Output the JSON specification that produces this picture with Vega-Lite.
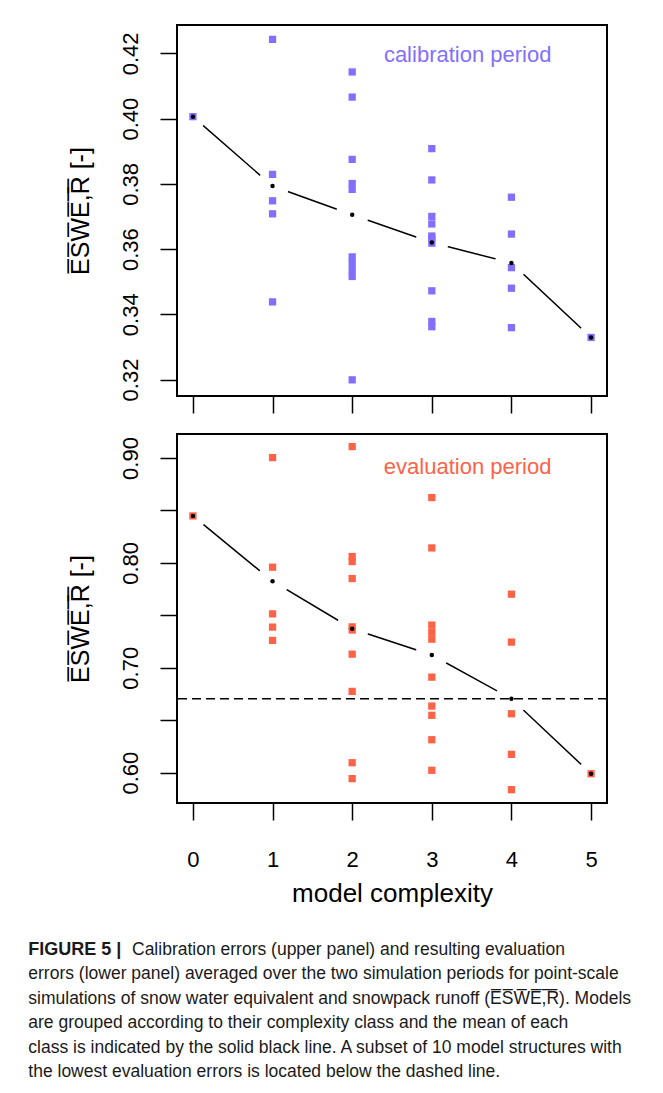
{
  "$schema": "https://vega.github.io/schema/vega-lite/v6.json",
  "background": "white",
  "padding": {"left": 28, "top": 24, "right": 5, "bottom": 5},
  "spacing": 18,
  "config": {
    "font": "Liberation Sans",
    "view": {"stroke": "black", "strokeWidth": 2},
    "axis": {
      "domain": false,
      "grid": false,
      "tickColor": "black",
      "tickWidth": 1.5,
      "tickSize": 17,
      "labelColor": "black",
      "labelFont": "Liberation Sans",
      "labelFontSize": 22,
      "titleFont": "Liberation Sans",
      "titleFontSize": 25,
      "titleFontWeight": "normal",
      "titleColor": "black"
    }
  },
  "datasets": {
    "cal": [
      {"complexity": 0, "error": 0.4006},
      {"complexity": 1, "error": 0.4243},
      {"complexity": 1, "error": 0.3829},
      {"complexity": 1, "error": 0.3748},
      {"complexity": 1, "error": 0.3708},
      {"complexity": 1, "error": 0.3438},
      {"complexity": 2, "error": 0.4143},
      {"complexity": 2, "error": 0.4066},
      {"complexity": 2, "error": 0.3875},
      {"complexity": 2, "error": 0.3801},
      {"complexity": 2, "error": 0.3783},
      {"complexity": 2, "error": 0.3576},
      {"complexity": 2, "error": 0.3556},
      {"complexity": 2, "error": 0.3535},
      {"complexity": 2, "error": 0.3516},
      {"complexity": 2, "error": 0.3199},
      {"complexity": 3, "error": 0.3908},
      {"complexity": 3, "error": 0.3812},
      {"complexity": 3, "error": 0.3700},
      {"complexity": 3, "error": 0.3677},
      {"complexity": 3, "error": 0.3640},
      {"complexity": 3, "error": 0.3632},
      {"complexity": 3, "error": 0.3618},
      {"complexity": 3, "error": 0.3472},
      {"complexity": 3, "error": 0.3378},
      {"complexity": 3, "error": 0.3362},
      {"complexity": 4, "error": 0.3759},
      {"complexity": 4, "error": 0.3646},
      {"complexity": 4, "error": 0.3543},
      {"complexity": 4, "error": 0.3480},
      {"complexity": 4, "error": 0.3359},
      {"complexity": 5, "error": 0.3329}
    ],
    "eval": [
      {"complexity": 0, "error": 0.8448},
      {"complexity": 1, "error": 0.9004},
      {"complexity": 1, "error": 0.7959},
      {"complexity": 1, "error": 0.7514},
      {"complexity": 1, "error": 0.7388},
      {"complexity": 1, "error": 0.7261},
      {"complexity": 2, "error": 0.9109},
      {"complexity": 2, "error": 0.8061},
      {"complexity": 2, "error": 0.8013},
      {"complexity": 2, "error": 0.7851},
      {"complexity": 2, "error": 0.7390},
      {"complexity": 2, "error": 0.7360},
      {"complexity": 2, "error": 0.7130},
      {"complexity": 2, "error": 0.6775},
      {"complexity": 2, "error": 0.6095},
      {"complexity": 2, "error": 0.5943},
      {"complexity": 3, "error": 0.8623},
      {"complexity": 3, "error": 0.8143},
      {"complexity": 3, "error": 0.7407},
      {"complexity": 3, "error": 0.7340},
      {"complexity": 3, "error": 0.7273},
      {"complexity": 3, "error": 0.6911},
      {"complexity": 3, "error": 0.6635},
      {"complexity": 3, "error": 0.6547},
      {"complexity": 3, "error": 0.6314},
      {"complexity": 3, "error": 0.6023},
      {"complexity": 4, "error": 0.7702},
      {"complexity": 4, "error": 0.7245},
      {"complexity": 4, "error": 0.6562},
      {"complexity": 4, "error": 0.6175},
      {"complexity": 4, "error": 0.5838},
      {"complexity": 5, "error": 0.5990}
    ],
    "caption": [
      {"line": 1, "part": "label", "text": "FIGURE 5 |"},
      {"line": 1, "part": "lead", "text": "Calibration errors (upper panel) and resulting evaluation"},
      {"line": 2, "part": "body", "text": "errors (lower panel) averaged over the two simulation periods for point-scale"},
      {"line": 3, "part": "body", "text": "simulations of snow water equivalent and snowpack runoff (E\u0305S\u0305W\u0305E\u0305,\u0305R\u0305). Models"},
      {"line": 4, "part": "body", "text": "are grouped according to their complexity class and the mean of each"},
      {"line": 5, "part": "body", "text": "class is indicated by the solid black line. A subset of 10 model structures with"},
      {"line": 6, "part": "body", "text": "the lowest evaluation errors is located below the dashed line."}
    ]
  },
  "vconcat": [
    {
      "width": 430,
      "height": 371,
      "layer": [
        {
          "data": {"name": "cal"},
          "mark": {"type": "line", "color": "black", "strokeWidth": 1.5},
          "encoding": {
            "x": {"field": "complexity", "type": "quantitative",
                  "scale": {"domain": [-0.2, 5.2], "nice": false, "zero": false},
                  "axis": {"values": [0, 1, 2, 3, 4, 5], "labels": false, "title": null}},
            "y": {"aggregate": "mean", "field": "error", "type": "quantitative",
                  "scale": {"domain": [0.31495, 0.4287], "nice": false, "zero": false},
                  "axis": {"values": [0.32, 0.34, 0.36, 0.38, 0.40, 0.42], "format": ".2f",
                           "labelAngle": -90, "labelAlign": "center", "labelBaseline": "bottom",
                           "labelPadding": 18, "titlePadding": 26,
                           "title": "E\u0305S\u0305W\u0305E\u0305,\u0305R\u0305 [-]"}}
          }
        },
        {
          "data": {"name": "cal"},
          "transform": [{"filter": "datum.complexity > 0 && datum.complexity < 5"}],
          "mark": {"type": "point", "shape": "circle", "filled": true, "color": "white", "opacity": 1, "size": 1089},
          "encoding": {
            "x": {"field": "complexity", "type": "quantitative"},
            "y": {"aggregate": "mean", "field": "error", "type": "quantitative"}
          }
        },
        {
          "data": {"name": "cal"},
          "transform": [{"filter": "datum.complexity == 0 || datum.complexity == 5"}],
          "mark": {"type": "point", "shape": "circle", "filled": true, "color": "white", "opacity": 1, "size": 740},
          "encoding": {
            "x": {"field": "complexity", "type": "quantitative"},
            "y": {"aggregate": "mean", "field": "error", "type": "quantitative"}
          }
        },
        {
          "data": {"name": "cal"},
          "mark": {"type": "point", "shape": "square", "filled": true, "color": "#836FFF", "opacity": 1, "size": 53},
          "encoding": {
            "x": {"field": "complexity", "type": "quantitative"},
            "y": {"field": "error", "type": "quantitative"}
          }
        },
        {
          "data": {"name": "cal"},
          "mark": {"type": "point", "shape": "circle", "filled": true, "color": "black", "opacity": 1, "size": 20},
          "encoding": {
            "x": {"field": "complexity", "type": "quantitative"},
            "y": {"aggregate": "mean", "field": "error", "type": "quantitative"}
          }
        },
        {
          "data": {"values": [{"label": "calibration period"}]},
          "mark": {"type": "text", "color": "#836FFF", "fontSize": 22, "align": "center", "baseline": "alphabetic"},
          "encoding": {
            "x": {"datum": 3.45, "type": "quantitative"},
            "y": {"datum": 0.4174, "type": "quantitative"},
            "text": {"field": "label"}
          }
        }
      ]
    },
    {
      "width": 430,
      "height": 369,
      "layer": [
        {
          "data": {"name": "eval"},
          "mark": {"type": "line", "color": "black", "strokeWidth": 1.5},
          "encoding": {
            "x": {"field": "complexity", "type": "quantitative",
                  "scale": {"domain": [-0.2, 5.2], "nice": false, "zero": false},
                  "axis": {"values": [0, 1, 2, 3, 4, 5], "format": "d", "labelPadding": 29, "titlePadding": 10,
                           "labelFontSize": 22, "titleFontSize": 26, "title": "model complexity"}},
            "y": {"aggregate": "mean", "field": "error", "type": "quantitative",
                  "scale": {"domain": [0.5711, 0.9229], "nice": false, "zero": false},
                  "axis": {"values": [0.60, 0.65, 0.70, 0.75, 0.80, 0.85, 0.90],
                           "labelExpr": "round(datum.value * 100) % 10 == 0 ? format(datum.value, '.2f') : ''",
                           "labelAngle": -90, "labelAlign": "center", "labelBaseline": "bottom",
                           "labelPadding": 18, "titlePadding": 26,
                           "title": "E\u0305S\u0305W\u0305E\u0305,\u0305R\u0305 [-]"}}
          }
        },
        {
          "data": {"name": "eval"},
          "transform": [{"filter": "datum.complexity > 0 && datum.complexity < 5"}],
          "mark": {"type": "point", "shape": "circle", "filled": true, "color": "white", "opacity": 1, "size": 1089},
          "encoding": {
            "x": {"field": "complexity", "type": "quantitative"},
            "y": {"aggregate": "mean", "field": "error", "type": "quantitative"}
          }
        },
        {
          "data": {"name": "eval"},
          "transform": [{"filter": "datum.complexity == 0 || datum.complexity == 5"}],
          "mark": {"type": "point", "shape": "circle", "filled": true, "color": "white", "opacity": 1, "size": 740},
          "encoding": {
            "x": {"field": "complexity", "type": "quantitative"},
            "y": {"aggregate": "mean", "field": "error", "type": "quantitative"}
          }
        },
        {
          "data": {"values": [{"threshold": 0.6705}]},
          "mark": {"type": "rule", "color": "black", "strokeWidth": 1.5, "strokeDash": [9, 5]},
          "encoding": {
            "y": {"field": "threshold", "type": "quantitative"}
          }
        },
        {
          "data": {"name": "eval"},
          "mark": {"type": "point", "shape": "square", "filled": true, "color": "#FF6347", "opacity": 1, "size": 53},
          "encoding": {
            "x": {"field": "complexity", "type": "quantitative"},
            "y": {"field": "error", "type": "quantitative"}
          }
        },
        {
          "data": {"name": "eval"},
          "mark": {"type": "point", "shape": "circle", "filled": true, "color": "black", "opacity": 1, "size": 20},
          "encoding": {
            "x": {"field": "complexity", "type": "quantitative"},
            "y": {"aggregate": "mean", "field": "error", "type": "quantitative"}
          }
        },
        {
          "data": {"values": [{"label": "evaluation period"}]},
          "mark": {"type": "text", "color": "#FF6347", "fontSize": 22, "align": "center", "baseline": "alphabetic"},
          "encoding": {
            "x": {"datum": 3.45, "type": "quantitative"},
            "y": {"datum": 0.8848, "type": "quantitative"},
            "text": {"field": "label"}
          }
        }
      ]
    },
    {
      "width": 430,
      "height": 172,
      "view": {"stroke": null},
      "data": {"name": "caption"},
      "encoding": {
        "x": {"datum": 0, "type": "quantitative", "scale": {"domain": [0, 1]}, "axis": null},
        "y": {"field": "line", "type": "ordinal", "axis": null,
              "scale": {"type": "point", "padding": 1.1, "domain": [1, 2, 3, 4, 5, 6]}},
        "text": {"field": "text"}
      },
      "layer": [
        {
          "transform": [{"filter": "datum.part == 'label'"}],
          "mark": {"type": "text", "align": "left", "baseline": "middle", "fontSize": 18, "fontWeight": "bold", "color": "#1a1a1a", "dx": -148.7}
        },
        {
          "transform": [{"filter": "datum.part == 'lead'"}],
          "mark": {"type": "text", "align": "left", "baseline": "middle", "fontSize": 17.5, "color": "#1a1a1a", "dx": -45}
        },
        {
          "transform": [{"filter": "datum.part == 'body'"}],
          "mark": {"type": "text", "align": "left", "baseline": "middle", "fontSize": 17.5, "color": "#1a1a1a", "dx": -148.7}
        }
      ]
    }
  ]
}
